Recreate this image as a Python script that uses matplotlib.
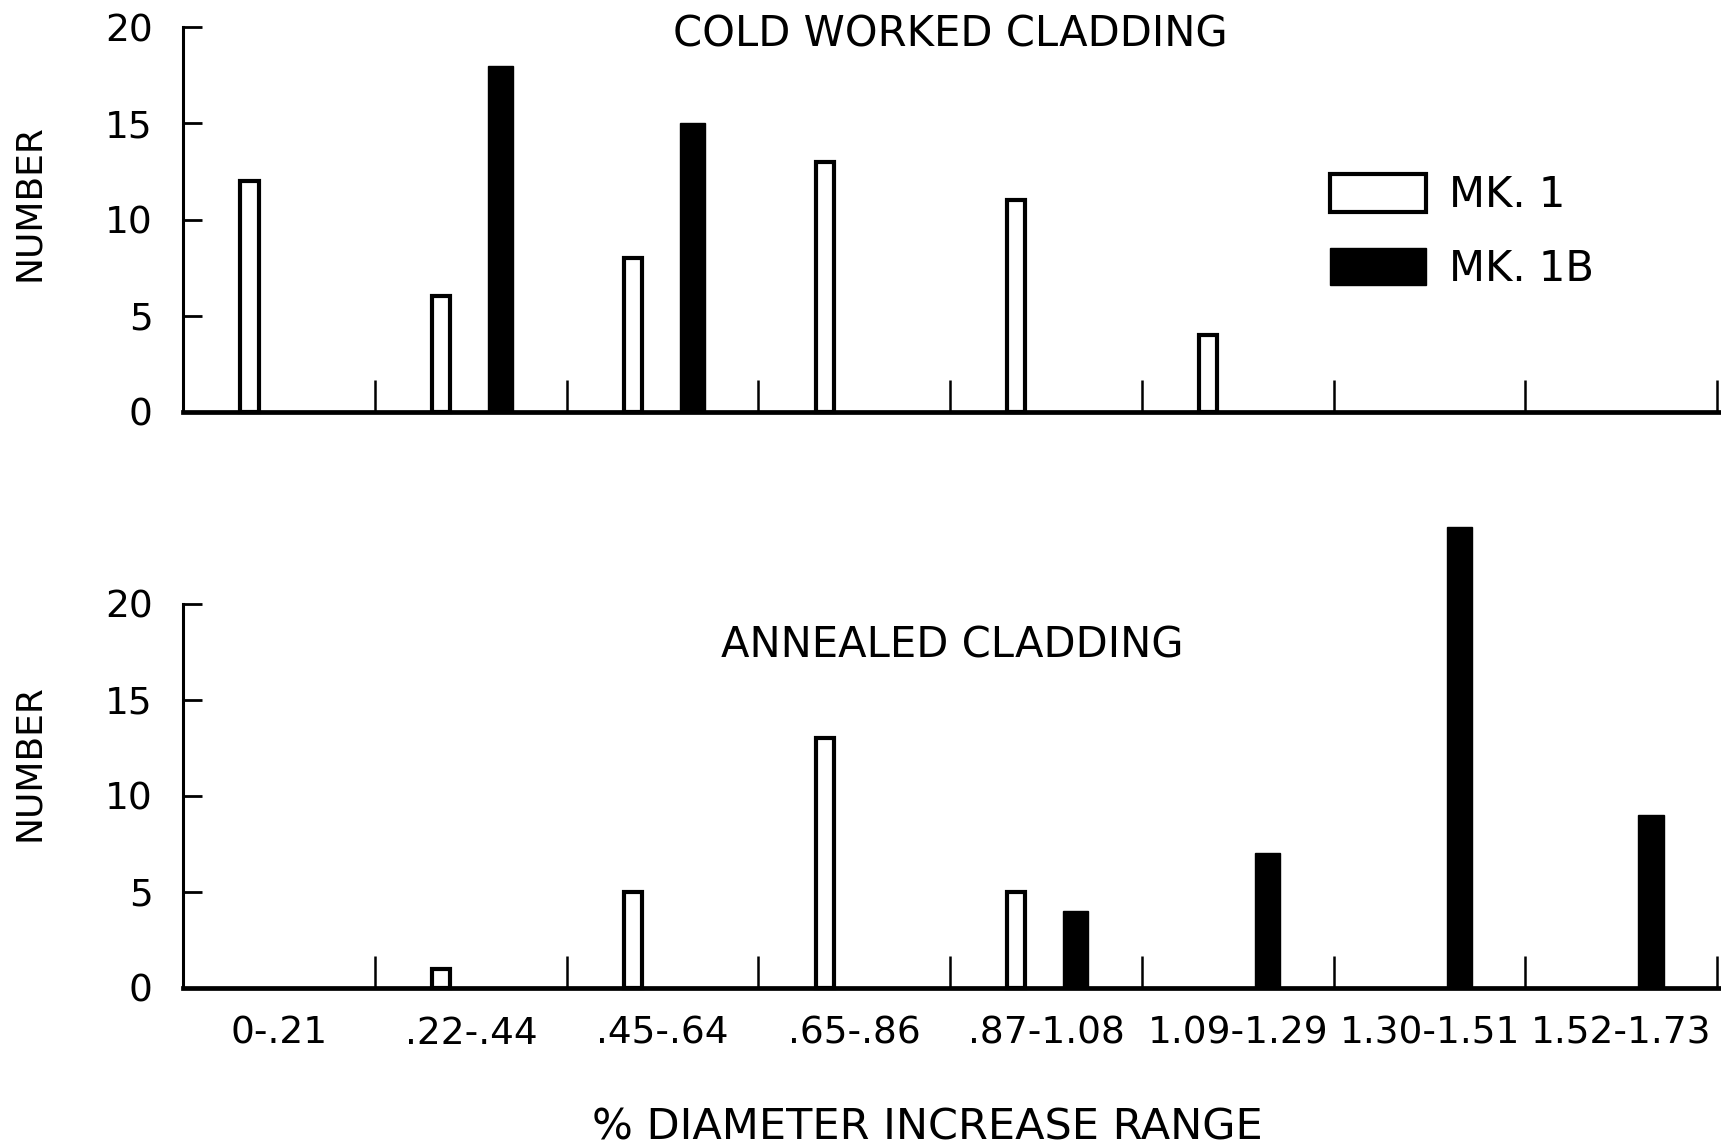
import matplotlib.pyplot as plt
import numpy as np

# % diameter increase ranges (one category per range)
ranges = ["0-.21", ".22-.44", ".45-.64", ".65-.86", ".87-1.08",
          "1.09-1.29", "1.30-1.51", "1.52-1.73"]

# cold worked cladding counts
cold_mk1 = [12, 6, 8, 13, 11, 4, 0, 0]
cold_mk1b = [0, 18, 15, 0, 0, 0, 0, 0]

# annealed cladding counts
ann_mk1 = [0, 1, 5, 13, 5, 0, 0, 0]
ann_mk1b = [0, 0, 0, 0, 4, 7, 24, 9]

y_ticks = [0, 5, 10, 15, 20]

plt.rcParams['font.family'] = ['DejaVu Sans']

fig = plt.figure(figsize=(17.21, 11.47), dpi=100)
ax_top = fig.add_axes([0.1065, 0.6411, 0.8935, 0.3350])
ax_bot = fig.add_axes([0.1065, 0.1388, 0.8935, 0.3349])

x = np.arange(len(ranges)) + 0.5


def draw_panel(ax, mk1, mk1b):
    mk1 = np.array(mk1)
    mk1b = np.array(mk1b)
    m1 = mk1 > 0
    m2 = mk1b > 0
    ax.bar(x[m1] - 0.155, mk1[m1], width=0.095, facecolor='white',
           edgecolor='black', linewidth=3.0, clip_on=False, zorder=3,
           label='MK. 1')
    ax.bar(x[m2] + 0.155, mk1b[m2], width=0.132, facecolor='black',
           edgecolor='black', linewidth=1.0, clip_on=False, zorder=3,
           label='MK. 1B')

    ax.set_xlim(0, 8.02)
    ax.set_ylim(0, 20)
    for s in ['top', 'right']:
        ax.spines[s].set_visible(False)
    ax.spines['bottom'].set_linewidth(3.4)
    ax.spines['left'].set_linewidth(2.2)

    ax.set_yticks(y_ticks)
    ax.set_yticklabels([str(v) for v in y_ticks], fontsize=27)
    ax.tick_params(axis='y', direction='in', length=14, width=2.0, pad=22)

    # boundaries between ranges carry the tick marks
    ax.set_xticks(np.arange(1, len(ranges) + 1))
    ax.set_xticklabels([])
    ax.tick_params(axis='x', which='major', direction='in', length=23,
                   width=1.8)

    ax.set_ylabel("NUMBER", fontsize=26, labelpad=0)


draw_panel(ax_top, cold_mk1, cold_mk1b)
draw_panel(ax_bot, ann_mk1, ann_mk1b)

ax_top.yaxis.set_label_coords(-0.089, 0.543)
ax_bot.yaxis.set_label_coords(-0.089, 0.586)

# range labels under the bottom panel
ax_bot.set_xticks(x, minor=True)
ax_bot.set_xticklabels(ranges, minor=True, fontsize=27)
ax_bot.tick_params(axis='x', which='minor', length=0, pad=20)

ax_top.text(0.499, 0.982, "COLD WORKED CLADDING", transform=ax_top.transAxes,
            ha='center', va='center', fontsize=30)
ax_bot.text(0.500, 0.892, "ANNEALED CLADDING", transform=ax_bot.transAxes,
            ha='center', va='center', fontsize=30)

ax_top.legend(loc='upper left', bbox_to_anchor=(0.773, 0.848),
              bbox_transform=fig.transFigure, frameon=False, fontsize=30,
              handlelength=2.3, handleheight=1.0, handletextpad=0.55,
              labelspacing=0.75, borderpad=0, borderaxespad=0)

fig.text(0.539, 0.017, "% DIAMETER INCREASE RANGE", ha='center',
         va='center', fontsize=31)

fig.savefig("out.png", dpi=100)
